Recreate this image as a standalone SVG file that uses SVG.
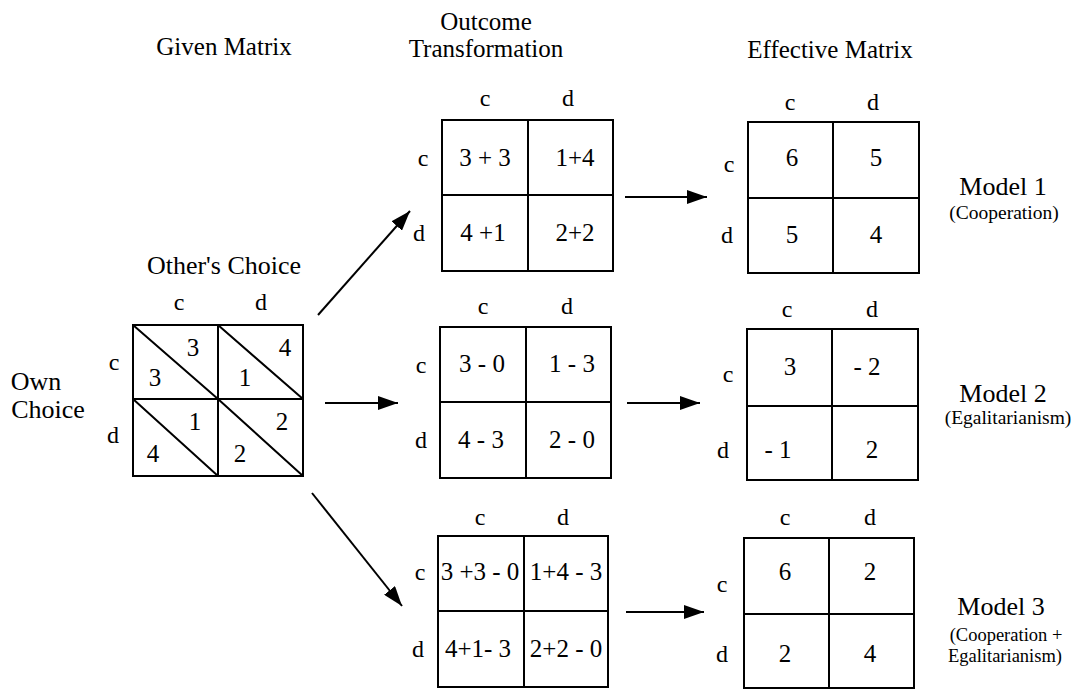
<svg xmlns="http://www.w3.org/2000/svg" width="1077" height="690" viewBox="0 0 1077 690">
<style>
text{font-family:"Liberation Serif","Times New Roman","DejaVu Serif",serif;fill:#000}
.h{font-size:25px;text-anchor:middle}
.oc{font-size:26px;text-anchor:middle}
.m{font-size:26px;text-anchor:middle}
.lb{font-size:24px;text-anchor:middle}
.n{font-size:25px;text-anchor:middle}
.s{font-size:19.5px;text-anchor:middle}
.s2{font-size:18.5px;text-anchor:middle}
.box{fill:#fff;stroke:#000;stroke-width:2}
.ln{stroke:#000;stroke-width:2;fill:none}
.ar{stroke:#000;stroke-width:2;fill:none;marker-end:url(#ah)}
</style>
<defs>
<marker id="ah" viewBox="0 0 20 14" refX="20" refY="7" markerWidth="20" markerHeight="14" markerUnits="userSpaceOnUse" orient="auto">
<path d="M0,0 L20,7 L0,14 z" fill="#000"/>
</marker>
</defs>
<rect width="1077" height="690" fill="#fff"/>
<g id="headers">
<text class="h" x="224" y="55">Given Matrix</text>
<text class="h" x="486" y="30">Outcome</text>
<text class="h" x="486" y="57">Transformation</text>
<text class="h" x="830" y="58">Effective Matrix</text>
</g>
<g id="given">
<text class="oc" x="224" y="274">Other's Choice</text>
<text class="lb" x="179" y="310">c</text>
<text class="lb" x="261" y="310">d</text>
<text class="lb" x="114" y="370">c</text>
<text class="lb" x="113" y="443">d</text>
<text class="m" x="36" y="390">Own</text>
<text class="m" x="48" y="418">Choice</text>
<rect class="box" x="133" y="325" width="170" height="151"/>
<path class="ln" d="M218,325V476M133,399H303M133,325L218,399M218,325L303,399M133,399L218,476M218,399L303,476"/>
<text class="n" x="193" y="356">3</text>
<text class="n" x="155" y="386">3</text>
<text class="n" x="285" y="356">4</text>
<text class="n" x="245" y="386">1</text>
<text class="n" x="195" y="430">1</text>
<text class="n" x="153" y="462">4</text>
<text class="n" x="282" y="430">2</text>
<text class="n" x="240" y="462">2</text>
</g>
<g id="outcome1">
<text class="lb" x="485" y="106">c</text>
<text class="lb" x="568" y="106">d</text>
<text class="lb" x="423" y="166">c</text>
<text class="lb" x="419" y="241">d</text>
<rect class="box" x="442" y="120" width="171" height="151"/>
<path class="ln" d="M528,120V271M442,195H613"/>
<text class="n" x="485" y="166">3 + 3</text>
<text class="n" x="575" y="166">1+4</text>
<text class="n" x="483" y="241">4 +1</text>
<text class="n" x="575" y="241">2+2</text>
</g>
<g id="outcome2">
<text class="lb" x="483" y="314">c</text>
<text class="lb" x="567" y="314">d</text>
<text class="lb" x="421" y="373">c</text>
<text class="lb" x="421" y="448">d</text>
<rect class="box" x="440" y="327" width="171" height="151"/>
<path class="ln" d="M526,327V478M440,402H611"/>
<text class="n" x="482" y="372">3 - 0</text>
<text class="n" x="572" y="372">1 - 3</text>
<text class="n" x="481" y="448">4 - 3</text>
<text class="n" x="572" y="448">2 - 0</text>
</g>
<g id="outcome3">
<text class="lb" x="480" y="525">c</text>
<text class="lb" x="563" y="525">d</text>
<text class="lb" x="420" y="580">c</text>
<text class="lb" x="418" y="657">d</text>
<rect class="box" x="438" y="536" width="170" height="151"/>
<path class="ln" d="M524,536V687M438,611H608"/>
<text class="n" x="480" y="580">3 +3 - 0</text>
<text class="n" x="566" y="580">1+4 - 3</text>
<text class="n" x="478" y="657">4+1- 3</text>
<text class="n" x="566" y="657">2+2 - 0</text>
</g>
<g id="effective1">
<text class="lb" x="790" y="110">c</text>
<text class="lb" x="873" y="110">d</text>
<text class="lb" x="729" y="172">c</text>
<text class="lb" x="727" y="243">d</text>
<rect class="box" x="748" y="122" width="171" height="151"/>
<path class="ln" d="M833,122V273M748,198H919"/>
<text class="n" x="792" y="166">6</text>
<text class="n" x="876" y="166">5</text>
<text class="n" x="792" y="243">5</text>
<text class="n" x="876" y="243">4</text>
</g>
<g id="effective2">
<text class="lb" x="787" y="317">c</text>
<text class="lb" x="872" y="317">d</text>
<text class="lb" x="728" y="382">c</text>
<text class="lb" x="723" y="458">d</text>
<rect class="box" x="747" y="329" width="171" height="151"/>
<path class="ln" d="M832,329V480M747,406H918"/>
<text class="n" x="790" y="375">3</text>
<text class="n" x="867" y="375">- 2</text>
<text class="n" x="778" y="458">- 1</text>
<text class="n" x="872" y="458">2</text>
</g>
<g id="effective3">
<text class="lb" x="785" y="525">c</text>
<text class="lb" x="870" y="525">d</text>
<text class="lb" x="722" y="592">c</text>
<text class="lb" x="722" y="662">d</text>
<rect class="box" x="744" y="538" width="170" height="150"/>
<path class="ln" d="M829,538V688M744,614H914"/>
<text class="n" x="785" y="580">6</text>
<text class="n" x="870" y="580">2</text>
<text class="n" x="785" y="662">2</text>
<text class="n" x="870" y="662">4</text>
</g>
<g id="model1">
<text class="m" x="1003" y="195">Model 1</text>
<text class="s" x="1004" y="219">(Cooperation)</text>
</g>
<g id="model2">
<text class="m" x="1003" y="402">Model 2</text>
<text class="s" x="1008" y="424">(Egalitarianism)</text>
</g>
<g id="model3">
<text class="m" x="1001" y="615">Model 3</text>
<text class="s2" x="1006" y="641">(Cooperation +</text>
<text class="s2" x="1005" y="662">Egalitarianism)</text>
</g>
<g id="connectors">
<line class="ar" x1="318" y1="315" x2="410" y2="211"/>
<line class="ar" x1="325" y1="403" x2="398" y2="403"/>
<line class="ar" x1="312" y1="493" x2="402" y2="606"/>
<line class="ar" x1="625" y1="197" x2="707" y2="197"/>
<line class="ar" x1="627" y1="403" x2="700" y2="403"/>
<line class="ar" x1="626" y1="612" x2="704" y2="612"/>
</g>
</svg>
